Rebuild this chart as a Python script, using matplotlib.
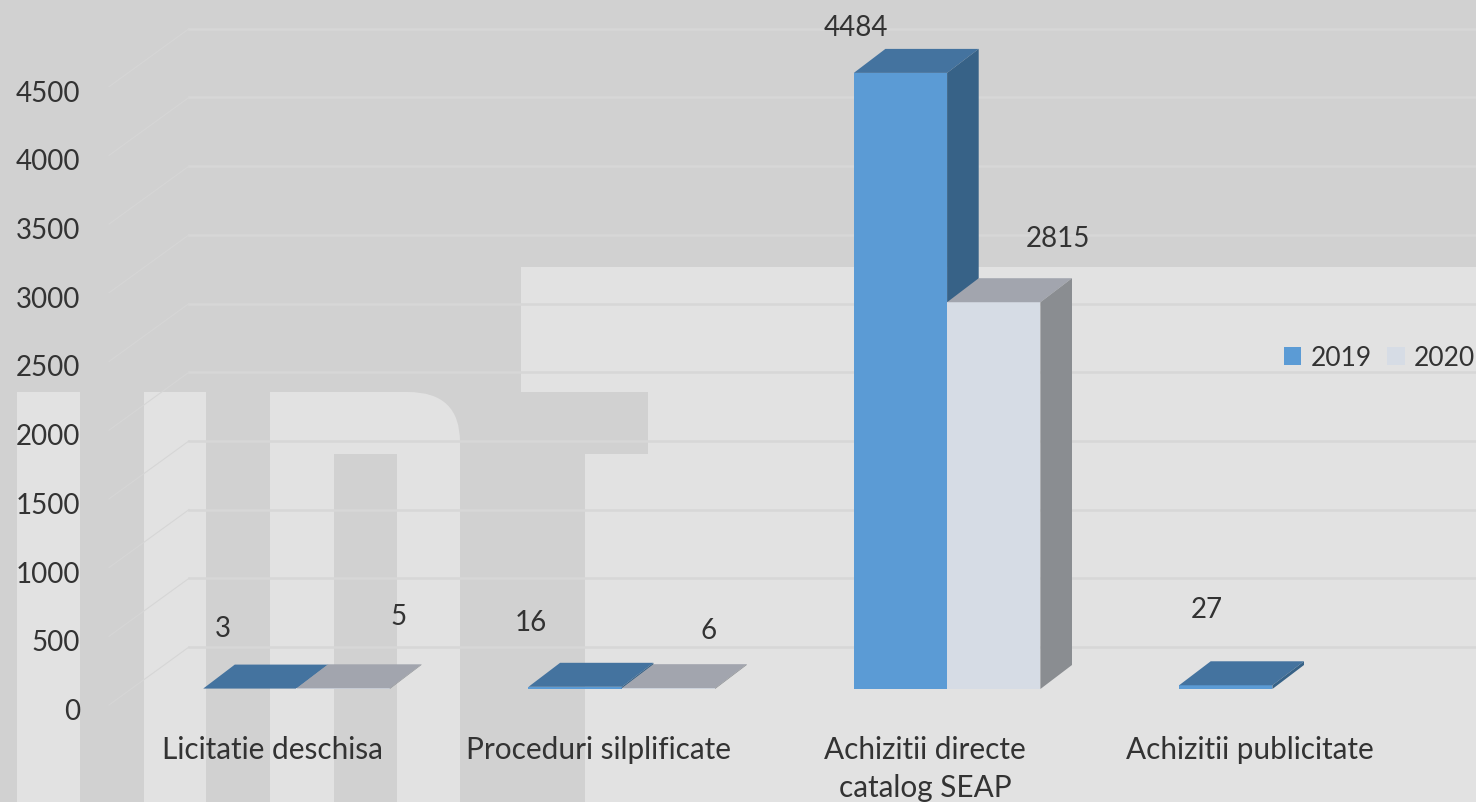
# =============================================================
# Procurement procedures by type, 2019 and 2020
# Fake 3D bars on top of a grey watermark background
# =============================================================

import matplotlib
matplotlib.use("Agg")
import matplotlib.pyplot as plt
from matplotlib.path import Path
from matplotlib.patches import PathPatch, Rectangle
from matplotlib.transforms import Affine2D

categorii = ["Licitatie deschisa", "Proceduri silplificate",
             "Achizitii directe\ncatalog SEAP", "Achizitii publicitate"]
ani = ["2019", "2020"]
valori_2019 = [3, 16, 4484, 27]
valori_2020 = [5, 6, 2815, None]
ticks_y = [0, 500, 1000, 1500, 2000, 2500, 3000, 3500, 4000, 4500]

# Layout in pixels
W, H = 1476, 803
PX_X0 = 296.5       # x of first category
PX_CAT = 325.3      # pixels per category
PX_Y0 = 690         # y of value 0 on the bar front
PX_VAL = 0.1374     # pixels per unit
BAR_W = 93.3 / PX_CAT
DEPTH_X = 31.6 / PX_CAT
DEPTH_Y = 24 / PX_VAL

FONT = "Lato"
FS = 20
FS_CAT = 21.4
TXT = "#333333"

plt.rcParams["font.family"] = [FONT, "DejaVu Sans"]

fig = plt.figure(figsize=(W / 100, H / 100), dpi=100, facecolor="#D1D1D1")
ax = fig.add_axes([0, 0, 1, 1])
ax.set_xlim(-PX_X0 / PX_CAT, (W - PX_X0) / PX_CAT)
ax.set_ylim((PX_Y0 - H) / PX_VAL, PX_Y0 / PX_VAL)
ax.axis("off")

# =================== WATERMARK ===================
px = Affine2D().scale(1 / W, -1 / H).translate(0, 1 - 1 / H) + ax.transAxes
LIGHT = "#E2E2E2"


def bloc(x0, y0, x1, y1):
    ax.add_patch(Rectangle((x0, y0), x1 - x0, y1 - y0, transform=px,
                           color=LIGHT, lw=0, zorder=1))


bloc(521, 267, W, 392)
bloc(648, 392, W, 454)
bloc(585, 454, W, H + 2)
bloc(17, 392, 80, H + 2)
bloc(144, 392, 206, H + 2)

litera = [(270, 392), (408, 392), (460, 392), (460, 442), (460, H + 2), (397, H + 2),
          (397, 454), (334, 454), (334, H + 2), (270, H + 2), (270, 392)]
coduri = [Path.MOVETO, Path.LINETO, Path.CURVE3, Path.CURVE3, Path.LINETO,
          Path.LINETO, Path.LINETO, Path.LINETO, Path.LINETO, Path.LINETO,
          Path.CLOSEPOLY]
ax.add_patch(PathPatch(Path(litera, coduri), transform=px, color=LIGHT, lw=0, zorder=1))

# =================== GRID ===================
# Back wall sits 42 px above the bar base, left wall runs down to the tick labels
SPATE = 42 / PX_VAL
FATA = -16 / PX_VAL
x_spate = (189 - PX_X0) / PX_CAT
x_fata = (109 - PX_X0) / PX_CAT
x_max = (W - PX_X0) / PX_CAT

for v in ticks_y:
    ax.plot([x_spate, x_max], [v + SPATE, v + SPATE], color="#D7D7D7", lw=1.8, zorder=2)
    ax.plot([x_fata, x_spate], [v + FATA, v + SPATE], color="#D6D6D6", lw=0.8, zorder=2)
    ax.annotate(str(v), xy=(x_fata, v), xytext=(-29, -22), textcoords="offset pixels",
                ha="right", va="center", fontsize=FS, color=TXT)


# =================== BARS ===================
def desen_serie(valori, offset, fata, sus, lateral, eticheta):
    poz = [i + offset for i, v in enumerate(valori) if v is not None]
    val = [v for v in valori if v is not None]
    cont = ax.bar(poz, val, width=BAR_W, color=fata, lw=0, zorder=3, label=eticheta)
    for x, v in zip(poz, val):
        st, dr = x - BAR_W / 2, x + BAR_W / 2
        ax.fill([st, dr, dr + DEPTH_X, st + DEPTH_X],
                [v, v, v + DEPTH_Y, v + DEPTH_Y], color=sus, lw=0, zorder=3)
        ax.fill([dr, dr + DEPTH_X, dr + DEPTH_X, dr],
                [0, DEPTH_Y, v + DEPTH_Y, v], color=lateral, lw=0, zorder=3)
    return cont


bare_2019 = desen_serie(valori_2019, -BAR_W / 2, "#5B9BD5", "#44739F", "#376287", ani[0])
bare_2020 = desen_serie(valori_2020, BAR_W / 2, "#D6DCE5", "#A2A5AE", "#8A8D91", ani[1])

# Data labels were placed by hand in the original chart
pozitii_etichete = [[(223, 628), (531, 622), (856, 27), (1207, 609)],
                    [(399, 616), (709, 630), (1058, 238), None]]
for valori, pozitii in zip([valori_2019, valori_2020], pozitii_etichete):
    for v, p in zip(valori, pozitii):
        if v is not None:
            ax.text(p[0], p[1], str(v), transform=px, ha="center", va="center",
                    fontsize=FS, color=TXT, zorder=5)

# =================== CATEGORY LABELS ===================
pozitii_cat = [272, 599, 925, 1250]
for eticheta, x in zip(categorii, pozitii_cat):
    ax.text(x, 735, eticheta, transform=px, ha="center", va="top",
            fontsize=FS_CAT, color=TXT, linespacing=1.45, zorder=5)

# =================== LEGEND ===================
ax.legend(handles=[bare_2019, bare_2020], loc="center right",
          bbox_to_anchor=(1475 / W, 1 - 359 / H), ncol=2, frameon=False,
          fontsize=19, labelcolor=TXT, handlelength=0.65, handleheight=0.65,
          handletextpad=0.35, columnspacing=0.6, borderpad=0, borderaxespad=0)

fig.savefig("out.png", dpi=100, facecolor=fig.get_facecolor())
